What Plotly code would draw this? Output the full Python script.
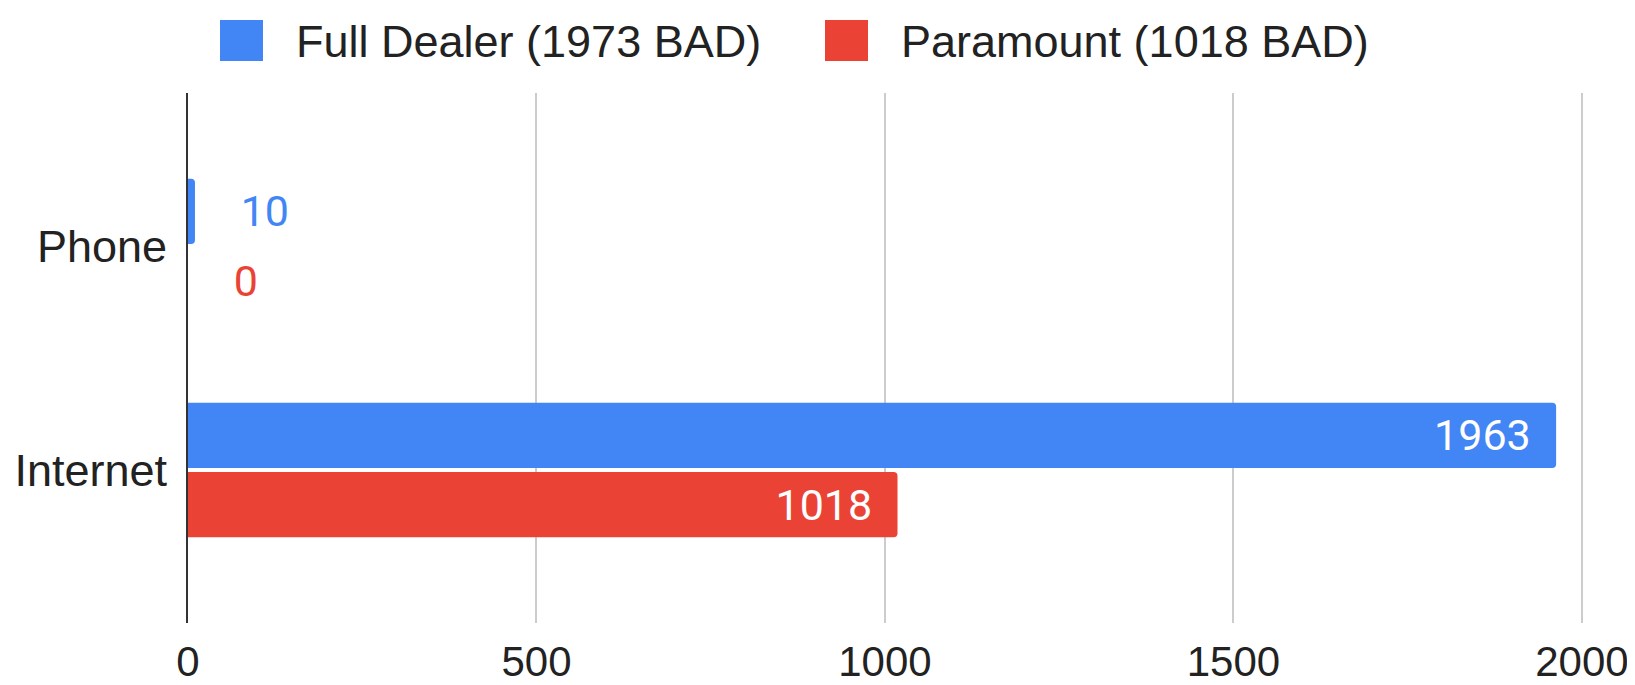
"""
Phone vs Internet BAD counts, two dealers side by side.
"""

import plotly.graph_objects as go


# ==========================================================
# DATA
# ==========================================================

CATEGORIES = ["Phone", "Internet"]

SERIES_NAMES = ["Full Dealer (1973 BAD)", "Paramount (1018 BAD)"]

FULL_DEALER = [10, 1963]
PARAMOUNT = [0, 1018]

X_TICKS = [0, 500, 1000, 1500, 2000]


# ==========================================================
# COLOURS / FONTS
# ==========================================================

COLORS = {
    "Full Dealer": "#4285F4",  # Google blue
    "Paramount": "#EA4335",  # Google red
}

LABEL_FONT = "Arial, Liberation Sans, sans-serif"
VALUE_FONT = "Roboto, Arial, sans-serif"
TEXT_COLOR = "#222222"


# ==========================================================
# PAGE GEOMETRY (pixels in the window)
# ==========================================================

PAGE_W, PAGE_H = 1635, 685
BODY = 8  # default body margin of the html page
PLOT_L, PLOT_R = 188, 1584
PLOT_T, PLOT_B = 93, 623
X_MAX = 2003  # keeps the 2000 gridline just inside the plot


def px_to_paper(x, y):
    """Convert window pixels into paper coordinates."""
    return (x - PLOT_L) / (PLOT_R - PLOT_L), (PLOT_B - y) / (PLOT_B - PLOT_T)


# short values get their label outside the bar, long ones inside
def label_positions(values):
    return ["outside" if v < 200 else "inside" for v in values]


def label_templates(values):
    nb = "\u00a0"
    return [nb * 4 + "%{x}" if v < 200 else "%{x}" + nb * 2 for v in values]


# ==========================================================
# FIGURE
# ==========================================================

fig = go.Figure()

for name, values, color in [
    (SERIES_NAMES[0], FULL_DEALER, COLORS["Full Dealer"]),
    (SERIES_NAMES[1], PARAMOUNT, COLORS["Paramount"]),
]:
    fig.add_trace(
        go.Bar(
            name=name,
            y=CATEGORIES,
            x=values,
            orientation="h",
            marker=dict(color=color, line=dict(width=0), cornerradius=4),
            textposition=label_positions(values),
            texttemplate=label_templates(values),
            insidetextanchor="end",
            textangle=0,
            insidetextfont=dict(family=VALUE_FONT, size=43, color="white"),
            outsidetextfont=dict(family=VALUE_FONT, size=43, color=color),
            cliponaxis=False,
            showlegend=False,
        )
    )

fig.update_layout(
    width=PAGE_W - BODY,
    height=PAGE_H - BODY,
    barmode="group",
    bargap=0.38,
    bargroupgap=0.06,
    plot_bgcolor="white",
    paper_bgcolor="white",
    margin=dict(
        l=PLOT_L - BODY,
        r=PAGE_W - PLOT_R,
        t=PLOT_T - BODY,
        b=PAGE_H - PLOT_B,
        autoexpand=False,
    ),
    font=dict(family=LABEL_FONT, color=TEXT_COLOR),
)

fig.update_xaxes(
    range=[0, X_MAX],
    tickvals=X_TICKS,
    showgrid=True,
    gridcolor="#CCCCCC",
    gridwidth=2,
    zeroline=False,
    showline=False,
    ticks="",
    ticklabelstandoff=10,
    tickfont=dict(family=LABEL_FONT, size=42, color=TEXT_COLOR),
)

fig.update_yaxes(
    categoryorder="array",
    categoryarray=CATEGORIES,
    range=[1.683, -0.683],
    showgrid=False,
    zeroline=False,
    showline=True,
    linecolor="#333333",
    linewidth=2,
    ticks="",
    ticklabelstandoff=10,
    tickfont=dict(family=LABEL_FONT, size=45, color=TEXT_COLOR),
)


# ==========================================================
# LEGEND (drawn by hand so the swatches can be large)
# ==========================================================

swatches = [(220, COLORS["Full Dealer"]), (825, COLORS["Paramount"])]

for (sx, color), name in zip(swatches, SERIES_NAMES):
    x0, y0 = px_to_paper(sx, 61)
    x1, y1 = px_to_paper(sx + 43, 20)
    fig.add_shape(
        type="rect",
        xref="paper",
        yref="paper",
        x0=x0,
        x1=x1,
        y0=y0,
        y1=y1,
        fillcolor=color,
        line=dict(width=0),
    )
    tx, ty = px_to_paper(sx + 74, 41)
    fig.add_annotation(
        text=name,
        xref="paper",
        yref="paper",
        x=tx,
        y=ty,
        xanchor="left",
        yanchor="middle",
        showarrow=False,
        font=dict(family=LABEL_FONT, size=45, color=TEXT_COLOR),
    )

fig.write_html("out.html")
